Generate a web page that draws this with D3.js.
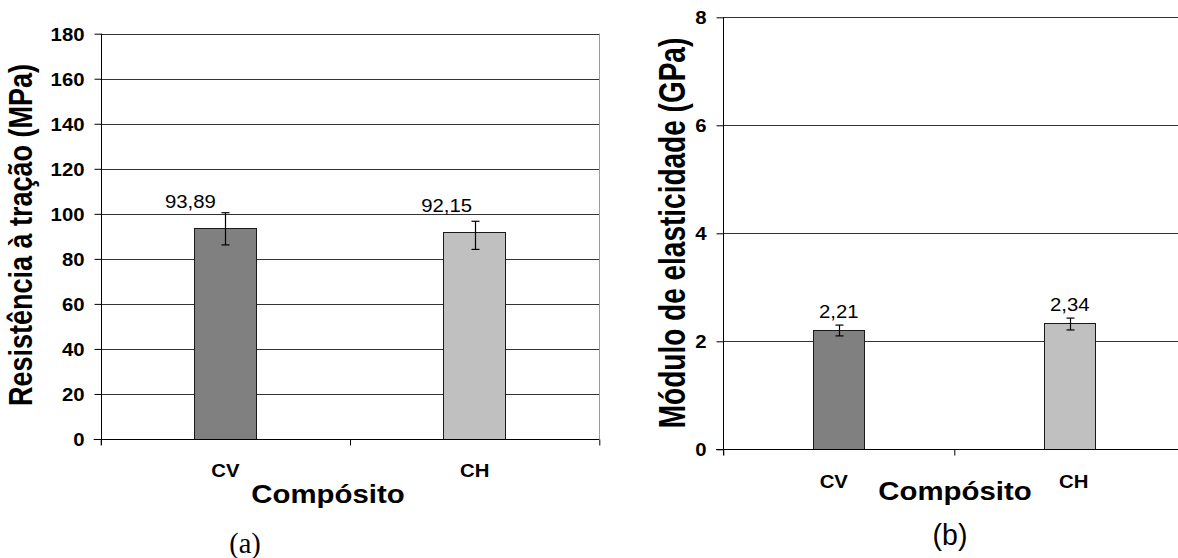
<!DOCTYPE html>
<html>
<head>
<meta charset="utf-8">
<script src="https://cdn.jsdelivr.net/npm/d3@7"></script>
<style>
  html, body { margin: 0; padding: 0; background: #fff; }
  svg { display: block; }
</style>
</head>
<body>
<svg id="fig" width="1178" height="558"></svg>
<script>
// ---- data ----
const categories = ["CV", "CH"];

const tensileMean = [93.89, 92.15];          // MPa
const tensileLow  = [86.2, 84.2];            // lower end of error bar
const tensileHigh = [100.5, 96.7];           // upper end of error bar
const tensileTicks = [0, 20, 40, 60, 80, 100, 120, 140, 160, 180];
const tensileLabels = ["93,89", "92,15"];

const modulusMean = [2.21, 2.34];            // GPa
const modulusLow  = [2.10, 2.21];
const modulusHigh = [2.30, 2.43];
const modulusTicks = [0, 2, 4, 6, 8];
const modulusLabels = ["2,21", "2,34"];

const barColors = ["#808080", "#c0c0c0"];

// ---- styling ----
const SANS = "'Liberation Sans', Arial, Helvetica, sans-serif";
const SERIF = "'Liberation Serif', 'Times New Roman', serif";
const SX = 1.13;  // horizontal stretch of lettering

const svg = d3.select("#fig");

// text helper: positioned, optionally rotated, stretched horizontally
function label(g, x, y, str, o) {
  const rot = o.rotate ? ` rotate(${o.rotate})` : "";
  const sx = o.sx || SX;
  return g.append("text")
    .attr("transform", `translate(${x},${y}) scale(${sx},1)${rot}`)
    .attr("text-anchor", o.anchor || "middle")
    .attr("font-family", o.family || SANS)
    .attr("font-size", o.size)
    .attr("font-weight", o.weight || "normal")
    .attr("fill", "#000")
    .text(str);
}

function panel(cfg) {
  const g = svg.append("g");
  const y = d3.scaleLinear().domain(cfg.domain).range([cfg.bottom, cfg.top]);
  const x = d3.scaleBand().domain(categories)
    .range([cfg.left, cfg.right])
    .paddingInner(cfg.padInner).paddingOuter(cfg.padInner / 2);
  const step = x.step();

  // horizontal gridlines
  g.append("g").selectAll("line")
    .data(cfg.ticks.filter(t => t !== 0))
    .join("line")
    .attr("x1", cfg.left).attr("x2", cfg.right)
    .attr("y1", d => Math.round(y(d)) + 0.5).attr("y2", d => Math.round(y(d)) + 0.5)
    .attr("stroke", "#333").attr("stroke-width", 1);

  // right border of plot area
  if (cfg.frame) {
    g.append("line")
      .attr("x1", Math.round(cfg.right) + 0.5).attr("x2", Math.round(cfg.right) + 0.5)
      .attr("y1", cfg.top).attr("y2", cfg.bottom)
      .attr("stroke", "#9a9a9a");
  }

  // bars
  g.append("g").selectAll("rect")
    .data(cfg.mean)
    .join("rect")
    .attr("x", (d, i) => Math.round(x(categories[i])) + 0.5)
    .attr("y", d => Math.round(y(d)) + 0.5)
    .attr("width", Math.round(x.bandwidth()))
    .attr("height", d => Math.round(y(0)) - Math.round(y(d)))
    .attr("fill", (d, i) => barColors[i])
    .attr("stroke", "#1a1a1a").attr("stroke-width", 1);

  // error bars
  const eb = g.append("g").attr("stroke", "#000").attr("stroke-width", 1.2);
  categories.forEach((c, i) => {
    const cx = Math.round(x(c) + x.bandwidth() / 2) + 0.5;
    const yh = y(cfg.high[i]), yl = y(cfg.low[i]);
    eb.append("line").attr("x1", cx).attr("x2", cx).attr("y1", yh).attr("y2", yl);
    eb.append("line").attr("x1", cx - 4).attr("x2", cx + 4).attr("y1", yh).attr("y2", yh);
    eb.append("line").attr("x1", cx - 4).attr("x2", cx + 4).attr("y1", yl).attr("y2", yl);
  });

  // value labels
  categories.forEach((c, i) => {
    const cx = x(c) + x.bandwidth() / 2 + cfg.valueDx[i];
    label(g, cx, y(cfg.mean[i]) - cfg.valueGap, cfg.labels[i], { size: 18 });
  });

  // y axis
  const yAxis = d3.axisLeft(y).tickValues(cfg.ticks).tickSize(7).tickSizeOuter(0)
    .tickFormat(d3.format("d"));
  const ya = g.append("g").attr("transform", `translate(${Math.round(cfg.left) + 0.5},0)`).call(yAxis);
  ya.select(".domain").attr("stroke", "#000").attr("d", `M0,${cfg.top}V${cfg.bottom + 6}`);
  ya.selectAll(".tick line").attr("stroke", "#000");
  ya.selectAll(".tick text")
    .attr("x", null).attr("dy", "0.36em")
    .attr("transform", `translate(-17,0) scale(${SX},1)`)
    .attr("font-family", SANS).attr("font-size", 18).attr("font-weight", "bold")
    .attr("fill", "#000");

  // x axis (ticks on category boundaries)
  const xb = d3.scaleLinear().domain([0, categories.length]).range([cfg.left, cfg.left + step * categories.length]);
  const xAxis = d3.axisBottom(xb).tickValues(d3.range(categories.length + 1))
    .tickSize(6).tickSizeOuter(0).tickFormat("");
  const xa = g.append("g").attr("transform", `translate(0,${Math.round(y(0)) + 0.5})`).call(xAxis);
  xa.select(".domain").attr("stroke", "#000").attr("d", `M${cfg.left - 7},0H${cfg.right}`);
  xa.selectAll(".tick line").attr("stroke", "#000");

  // category labels
  categories.forEach((c, i) => {
    label(g, x(c) + x.bandwidth() / 2 + cfg.catDx[i], cfg.catY, c, { size: 18, weight: "bold" });
  });

  // axis titles
  label(g, cfg.xTitle[0], cfg.xTitle[1], "Compósito", { size: 26, weight: "bold" });
  label(g, cfg.yTitle[0], cfg.yTitle[1], cfg.yTitleText,
    { size: cfg.yTitleSize, weight: "bold", rotate: -90, sx: cfg.yTitleSx });

  // panel tag
  label(g, cfg.tag[0], cfg.tag[1], cfg.tagText, { size: 30, family: cfg.tagFamily, sx: 0.95 });
}

// (a) tensile strength
panel({
  domain: [0, 180], ticks: tensileTicks,
  left: 100.7, right: 599.3, top: 33.7, bottom: 439,
  padInner: 0.75, frame: true,
  mean: tensileMean, low: tensileLow, high: tensileHigh, labels: tensileLabels,
  valueDx: [-35, -28], valueGap: 20,
  catDx: [0, 0], catY: 477,
  xTitle: [328, 503], yTitle: [32, 235],
  yTitleText: "Resistência à tração (MPa)", yTitleSize: 27, yTitleSx: 1.25,
  tag: [245, 553], tagText: "(a)", tagFamily: SERIF
});

// (b) elastic modulus
panel({
  domain: [0, 8], ticks: modulusTicks,
  left: 723.3, right: 1185.3, top: 17.3, bottom: 449.3,
  padInner: 0.78, frame: false,
  mean: modulusMean, low: modulusLow, high: modulusHigh, labels: modulusLabels,
  valueDx: [0, 0], valueGap: 12,
  catDx: [-5, 4], catY: 488,
  xTitle: [955, 500], yTitle: [685, 233],
  yTitleText: "Módulo de elasticidade (GPa)", yTitleSize: 28, yTitleSx: 1.3,
  tag: [950, 545], tagText: "(b)", tagFamily: SANS
});
</script>
</body>
</html>
